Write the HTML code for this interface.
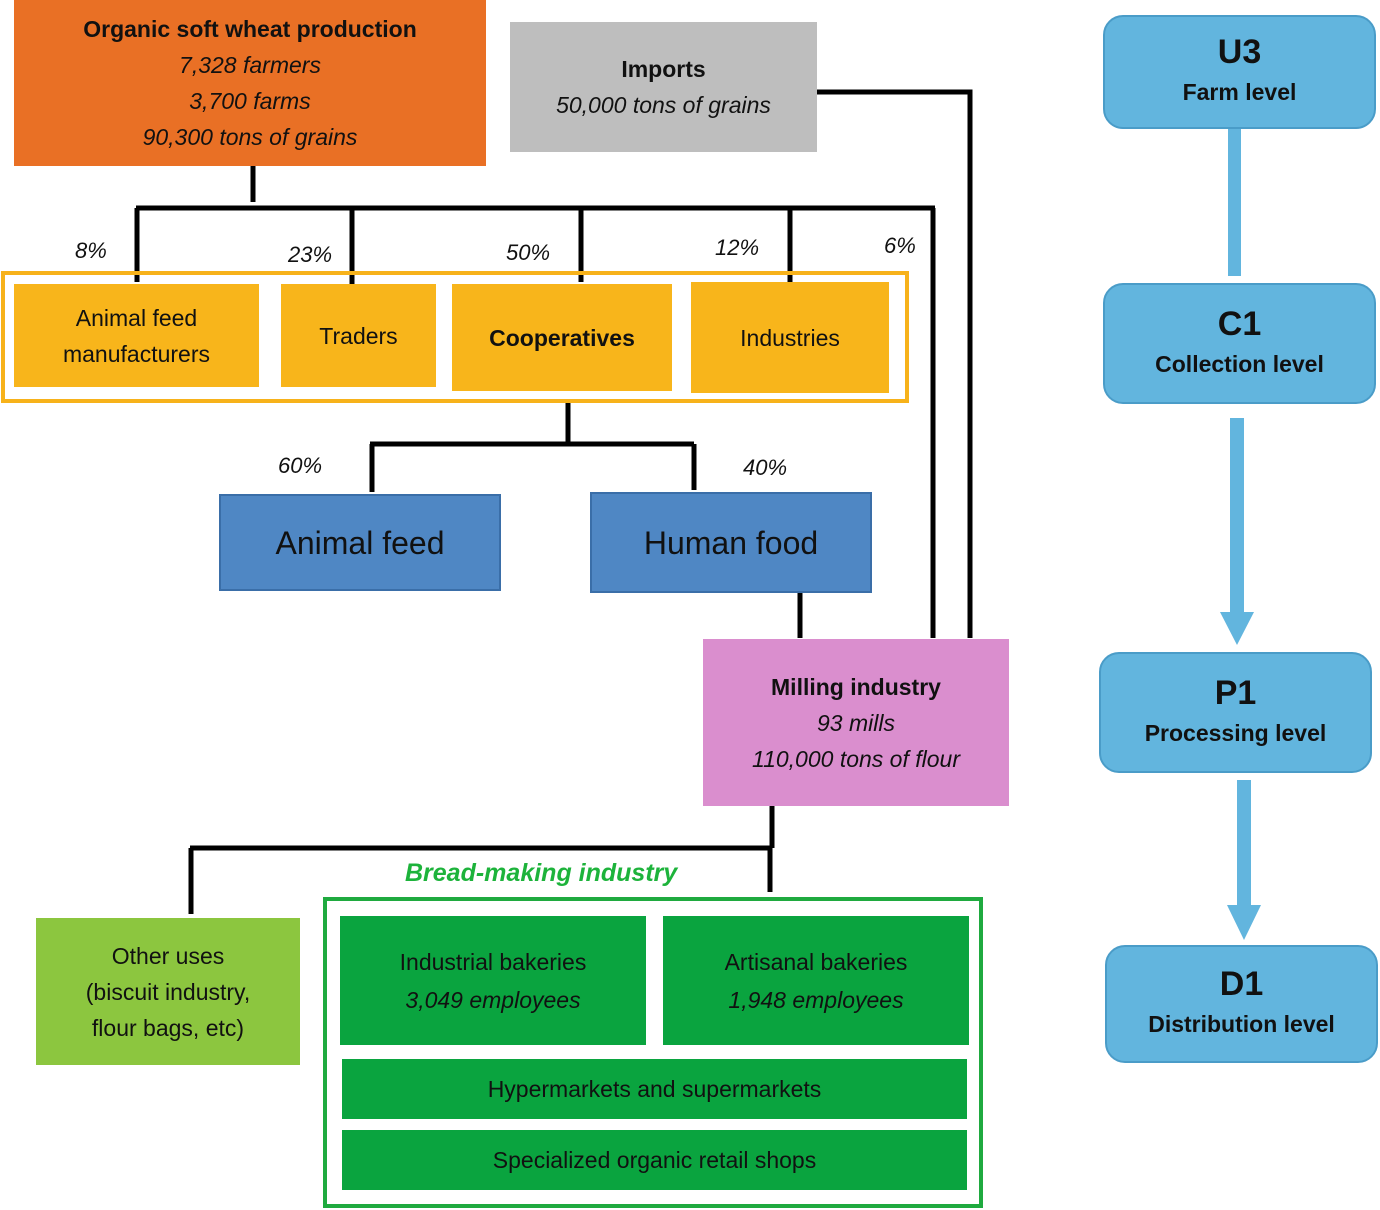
<!DOCTYPE html>
<html><head><meta charset="utf-8"><style>
body{margin:0;width:1380px;height:1210px;background:#fff;position:relative;overflow:hidden;font-family:"Liberation Sans",sans-serif;color:#111}
.b{position:absolute;display:flex;flex-direction:column;justify-content:center;align-items:center;text-align:center;box-sizing:border-box;line-height:36px}
.i{font-style:italic}
.p{position:absolute;font-style:italic;font-size:22px}
.r{border-radius:20px;background:#62b5de;border:2px solid #4a9cc8;line-height:40px}
.r .t{font-weight:bold;font-size:34px}
.r .s{font-weight:bold;font-size:23px}
</style></head><body>
<svg width="1380" height="1210" style="position:absolute;left:0;top:0">
<g stroke="#000" stroke-width="5" fill="none">
<path d="M253 166V202M136 208H935M137 208V282M352 208V286M581 208V282M790 208V282M933 208V638"/>
<path d="M817 92H970V638"/>
<path d="M568 402V444M370 444H694M372 444V492M694 444V490"/>
<path d="M800 593V638"/>
<path d="M772 806V848M190 848H772M191 848V914M770 848V892"/>
</g>
<rect x="3" y="273" width="904" height="128" fill="none" stroke="#f7b21a" stroke-width="4"/>
<rect x="325" y="899" width="656" height="307" fill="none" stroke="#1faa3f" stroke-width="4"/>
<g fill="#62b5de">
<rect x="1228" y="129" width="13" height="147"/>
<rect x="1230" y="418" width="14" height="196"/>
<polygon points="1220,612 1254,612 1237,645"/>
<rect x="1237" y="780" width="14" height="127"/>
<polygon points="1227,905 1261,905 1244,940"/>
</g>
</svg>
<div class="b" style="left:14px;top:0;width:472px;height:166px;background:#e97025;font-size:23px"><b>Organic soft wheat production</b><span class="i">7,328 farmers</span><span class="i">3,700 farms</span><span class="i">90,300 tons of grains</span></div>
<div class="b" style="left:510px;top:22px;width:307px;height:130px;background:#bebebe;font-size:23px"><b>Imports</b><span class="i">50,000 tons of grains</span></div>
<div class="p" style="left:75px;top:238px">8%</div>
<div class="p" style="left:288px;top:242px">23%</div>
<div class="p" style="left:506px;top:240px">50%</div>
<div class="p" style="left:715px;top:235px">12%</div>
<div class="p" style="left:884px;top:233px">6%</div>
<div class="b" style="left:14px;top:284px;width:245px;height:103px;background:#f8b51b;font-size:23px">Animal feed<br>manufacturers</div>
<div class="b" style="left:281px;top:284px;width:155px;height:103px;background:#f8b51b;font-size:23px">Traders</div>
<div class="b" style="left:452px;top:284px;width:220px;height:107px;background:#f8b51b;font-size:23px"><b>Cooperatives</b></div>
<div class="b" style="left:691px;top:282px;width:198px;height:111px;background:#f8b51b;font-size:23px">Industries</div>
<div class="p" style="left:278px;top:453px">60%</div>
<div class="p" style="left:743px;top:455px">40%</div>
<div class="b" style="left:219px;top:494px;width:282px;height:97px;background:#4f87c4;border:2px solid #3a6ea8;font-size:32px">Animal feed</div>
<div class="b" style="left:590px;top:492px;width:282px;height:101px;background:#4f87c4;border:2px solid #3a6ea8;font-size:32px">Human food</div>
<div class="b" style="left:703px;top:639px;width:306px;height:167px;background:#da8ece;font-size:23px"><b>Milling industry</b><span class="i">93 mills</span><span class="i">110,000 tons of flour</span></div>
<div class="p" style="left:405px;top:859px;color:#1db33b;font-weight:bold;font-size:25px">Bread-making industry</div>
<div class="b" style="left:36px;top:918px;width:264px;height:147px;background:#8cc63f;font-size:23px">Other uses<br>(biscuit industry,<br>flour bags, etc)</div>
<div class="b" style="left:340px;top:916px;width:306px;height:129px;background:#0aa43f;font-size:23px;line-height:38px">Industrial bakeries<span class="i">3,049 employees</span></div>
<div class="b" style="left:663px;top:916px;width:306px;height:129px;background:#0aa43f;font-size:23px;line-height:38px">Artisanal bakeries<span class="i">1,948 employees</span></div>
<div class="b" style="left:342px;top:1059px;width:625px;height:60px;background:#0aa43f;font-size:23px">Hypermarkets and supermarkets</div>
<div class="b" style="left:342px;top:1130px;width:625px;height:60px;background:#0aa43f;font-size:23px">Specialized organic retail shops</div>
<div class="b r" style="left:1103px;top:15px;width:273px;height:114px"><span class="t">U3</span><span class="s">Farm level</span></div>
<div class="b r" style="left:1103px;top:283px;width:273px;height:121px"><span class="t">C1</span><span class="s">Collection level</span></div>
<div class="b r" style="left:1099px;top:652px;width:273px;height:121px"><span class="t">P1</span><span class="s">Processing level</span></div>
<div class="b r" style="left:1105px;top:945px;width:273px;height:118px"><span class="t">D1</span><span class="s">Distribution level</span></div>
</body></html>
